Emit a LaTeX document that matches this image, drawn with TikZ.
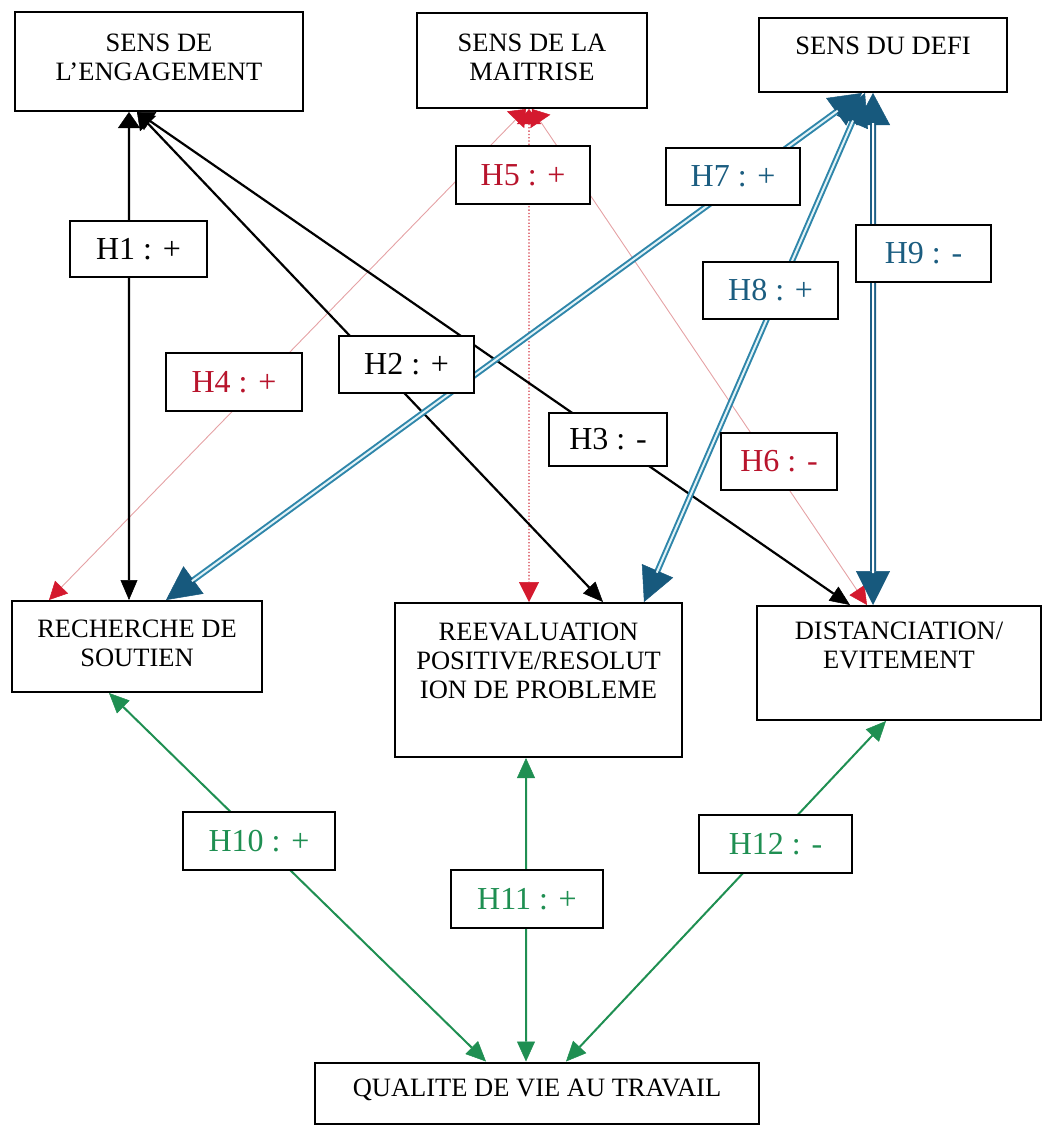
\documentclass[tikz,border=0pt]{standalone}
\usepackage{fontspec}
\setmainfont{Liberation Serif}
\usetikzlibrary{arrows.meta}
\definecolor{tipred}{HTML}{D4192E}
\definecolor{txtred}{HTML}{B8142C}
\definecolor{linkred}{HTML}{E5A2A5}
\definecolor{dotred}{HTML}{D23542}
\definecolor{bluetxt}{HTML}{1B5D80}
\definecolor{bluetip}{HTML}{17597D}
\definecolor{blueedge}{HTML}{2F86AA}
\definecolor{bluedeep}{HTML}{1D5F86}
\definecolor{bluecore}{HTML}{E2F3F7}
\definecolor{grn}{HTML}{1F8F52}

\begin{document}
\begin{tikzpicture}[x=1bp,y=-1bp,
  box/.style={draw, line width=2bp, fill=white, inner sep=0pt},
  boxtxt/.style={inner sep=0pt, align=center, anchor=north,
    font=\fontsize{26.5bp}{29bp}\selectfont},
  hyp/.style={draw, line width=2bp, fill=white, inner sep=0pt,
    font=\fontsize{32bp}{36bp}\selectfont},
  blk/.style={line width=2.2bp, black,
    arrows={Triangle[length=16bp,width=22bp,line width=0.5bp]-Triangle[length=20bp,width=17bp,line width=0.5bp]}},
  redl/.style={line width=0.9bp, linkred,
    arrows={Triangle[length=15bp,width=24bp,color=tipred,line width=0.5bp]-Triangle[length=18bp,width=18bp,color=tipred,line width=0.5bp]}},
  redd/.style={line width=1.3bp, dotred, dotted,
    arrows={Triangle[length=15bp,width=24bp,color=tipred,line width=0.5bp]-Triangle[length=20bp,width=20bp,color=tipred,line width=0.5bp]}},
  bluel/.style={line width=6bp, blueedge,
    arrows={Triangle[length=32bp,width=34bp,color=bluetip,line width=0.5bp]-Triangle[length=34bp,width=34bp,color=bluetip,line width=0.5bp]}},
  bluecoreline/.style={line width=2bp, bluecore, shorten <=30bp, shorten >=32bp},
  grnl/.style={line width=2bp, grn,
    arrows={Triangle[length=20bp,width=18bp,line width=0.5bp]-Triangle[length=20bp,width=18bp,line width=0.5bp]}}
]
\useasboundingbox (0,0) rectangle (1047,1125);

% ---- boxes ----
\node[box, minimum width=288bp, minimum height=99bp]  (eng)  at (159,61.5) {};
\node[box, minimum width=230bp, minimum height=95bp]  (mai)  at (532,60.5) {};
\node[box, minimum width=248bp, minimum height=74bp]  (defi) at (883,55) {};
\node[box, minimum width=250bp, minimum height=91bp]  (rech) at (137,646.5) {};
\node[box, minimum width=287bp, minimum height=154bp] (reev) at (538.5,680) {};
\node[box, minimum width=284bp, minimum height=114bp] (dist) at (899,663) {};
\node[box, minimum width=444bp, minimum height=61bp]  (qual) at (537,1093) {};

% ---- attachment points ----
\coordinate (e1) at ([xshift=115bp]eng.south west);
\coordinate (e2) at ([xshift=123bp]eng.south west);
\coordinate (m4) at ([xshift=110bp]mai.south west);
\coordinate (m5) at ([xshift=113bp]mai.south west);
\coordinate (m6) at ([xshift=116bp]mai.south west);
\coordinate (d7) at ([xshift=104bp]defi.south west);
\coordinate (d8) at ([xshift=107bp]defi.south west);
\coordinate (d9) at ([xshift=115bp]defi.south west);
\coordinate (rc1) at ([xshift=118bp]rech.north west);
\coordinate (rc4) at ([xshift=38bp]rech.north west);
\coordinate (rc7) at ([xshift=155bp]rech.north west);
\coordinate (rc10) at ([xshift=98bp]rech.south west);
\coordinate (rv2) at ([xshift=209bp]reev.north west);
\coordinate (rv5) at ([xshift=135bp]reev.north west);
\coordinate (rv8) at ([xshift=250bp]reev.north west);
\coordinate (rv11) at ([xshift=132bp]reev.south west);
\coordinate (ds3) at ([xshift=94bp]dist.north west);
\coordinate (ds6) at ([xshift=111bp]dist.north west);
\coordinate (ds9) at ([xshift=117bp]dist.north west);
\coordinate (ds12) at ([xshift=130bp]dist.south west);
\coordinate (q10) at ([xshift=172bp]qual.north west);
\coordinate (q11) at ([xshift=212bp]qual.north west);
\coordinate (q12) at ([xshift=252bp]qual.north west);

% ---- links from the sense of mastery (red) ----
\draw[redl] (m4) -- (rc4);
\draw[redl] (m6) -- (ds6);
\draw[redd] (m5) -- (rv5);

% ---- links from the sense of commitment (black) ----
\draw[blk] (e1) -- (rc1);
\draw[blk] (e2) -- (rv2);
\draw[blk] (e2) -- (ds3);

% ---- links from the sense of challenge (blue, double) ----
\draw[bluel] (d7) -- (rc7);
\draw[bluecoreline] (d7) -- (rc7);
\draw[bluel] (d8) -- (rv8);
\draw[bluecoreline] (d8) -- (rv8);
\draw[bluel, bluedeep] (d9) -- (ds9);
\draw[bluecoreline, white] (d9) -- (ds9);

% ---- links to quality of work life (green) ----
\draw[grnl] (q10) -- (rc10);
\draw[grnl] (q11) -- (rv11);
\draw[grnl] (q12) -- (ds12);

% ---- hypothesis labels ----
\node[hyp, minimum width=137bp, minimum height=56bp] (h1) at (138.5,249) {H1 : +\hspace{12bp}};
\node[hyp, minimum width=135bp, minimum height=57bp] (h2) at (406.5,364.5) {H2 : +\hspace{6bp}};
\node[hyp, minimum width=118bp, minimum height=53bp] (h3) at (608,439.5) {H3 : -\hspace{8bp}};
\node[hyp, minimum width=136bp, minimum height=58bp, text=txtred] (h4) at (234,382) {H4 : +\hspace{12bp}};
\node[hyp, minimum width=134bp, minimum height=58bp, text=txtred] (h5) at (523,175) {H5 : +\hspace{12bp}};
\node[hyp, minimum width=116bp, minimum height=57bp, text=txtred] (h6) at (779,461.5) {H6 : -};
\node[hyp, minimum width=134bp, minimum height=57bp, text=bluetxt] (h7) at (733,176.5) {H7 : +\hspace{12bp}};
\node[hyp, minimum width=135bp, minimum height=57bp, text=bluetxt] (h8) at (770.5,290.5) {H8 : +};
\node[hyp, minimum width=135bp, minimum height=57bp, text=bluetxt] (h9) at (923.5,253.5) {H9 : -\hspace{16bp}};
\node[hyp, minimum width=152bp, minimum height=58bp, text=grn] (h10) at (259,841) {H10 : +\hspace{14bp}};
\node[hyp, minimum width=152bp, minimum height=58bp, text=grn] (h11) at (527,899) {H11 : +\hspace{8bp}};
\node[hyp, minimum width=153bp, minimum height=58bp, text=grn] (h12) at (775.5,844) {H12 : -\hspace{14bp}};

% ---- box texts ----
\node[boxtxt] (eng-t)  at (159,34)  {SENS DE\\L’ENGAGEMENT};
\node[boxtxt] (mai-t)  at (532,34)  {SENS DE LA\\MAITRISE};
\node[boxtxt] (defi-t) at (883,37)  {SENS DU DEFI};
\node[boxtxt] (rech-t) at (137,620) {RECHERCHE DE\\SOUTIEN};
\node[boxtxt] (reev-t) at (538.5,623) {REEVALUATION\\POSITIVE/RESOLUT\\ION DE PROBLEME};
\node[boxtxt] (dist-t) at (899,622) {DISTANCIATION/\\EVITEMENT};
\node[boxtxt] (qual-t) at (537,1079) {QUALITE DE VIE AU TRAVAIL};
\end{tikzpicture}
\end{document}
